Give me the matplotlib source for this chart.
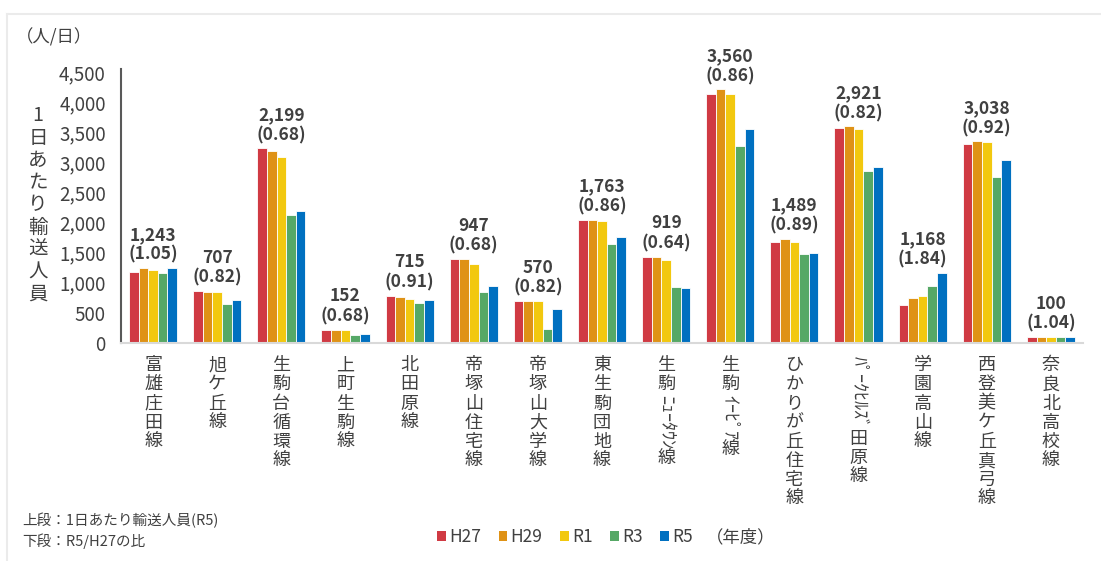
import unicodedata

import matplotlib
matplotlib.use("Agg")
import matplotlib.pyplot as plt
import numpy as np
from matplotlib.lines import Line2D
from matplotlib.patches import Patch
from matplotlib.ticker import FuncFormatter

routes = ["富雄庄田線", "旭ケ丘線", "生駒台循環線", "上町生駒線", "北田原線",
          "帝塚山住宅線", "帝塚山大学線", "東生駒団地線", "生駒ﾆｭｰﾀｳﾝ線",
          "生駒ｲｰﾋﾟｱ線", "ひかりが丘住宅線", "ﾊﾟｰｸﾋﾙｽﾞ田原線", "学園高山線",
          "西登美ケ丘真弓線", "奈良北高校線"]
years = ["H27", "H29", "R1", "R3", "R5"]
h27 = [1184, 862, 3234, 224, 786, 1393, 695, 2050, 1436, 4140, 1673, 3562, 635, 3302, 96]
h29 = [1240, 852, 3187, 224, 759, 1395, 695, 2045, 1422, 4211, 1727, 3600, 745, 3350, 97]
r1 = [1212, 850, 3088, 215, 725, 1311, 690, 2025, 1383, 4135, 1680, 3550, 775, 3340, 100]
r3 = [1167, 643, 2125, 133, 659, 852, 232, 1638, 930, 3275, 1480, 2850, 940, 2760, 96]
r5 = [1243, 707, 2199, 152, 715, 947, 570, 1763, 919, 3560, 1489, 2921, 1168, 3038, 100]
ratio = [1.05, 0.82, 0.68, 0.68, 0.91, 0.68, 0.82, 0.86, 0.64, 0.86, 0.89, 0.82, 1.84, 0.92, 1.04]
colors = ["#d03a43", "#df9216", "#f2c80f", "#56a866", "#0070c0"]

plt.rcParams["font.family"] = ["Noto Sans CJK JP", "DejaVu Sans"]
TEXT = "#404040"

W, H = 1101, 561
fig = plt.figure(figsize=(W / 100, H / 100), dpi=100)
ax = fig.add_axes([121 / W, 1 - 343 / H, (1083 - 121) / W, (343 - 69) / H])

series = [h27, h29, r1, r3, r5]
x = np.arange(len(routes))
width = 0.15
for k, (name, vals, color) in enumerate(zip(years, series, colors)):
    ax.bar(x + (k - 2) * width, vals, width, color=color, edgecolor="white",
           linewidth=0.6, label=name, zorder=2)

ax.set_xlim(-0.5, len(routes) - 0.5)
ax.set_ylim(0, 4550)
ax.set_yticks(np.arange(0, 4501, 500))
ax.yaxis.set_major_formatter(FuncFormatter(lambda v, p: f"{v:,.0f}"))
ax.tick_params(axis="y", length=0, pad=11, labelsize=13.5, labelcolor=TEXT)
ax.set_xticks([])
ax.spines["top"].set_visible(False)
ax.spines["right"].set_visible(False)
ax.spines["left"].set_color("#595959")
ax.spines["left"].set_linewidth(1.5)
ax.spines["bottom"].set_color("#d9d9d9")
ax.spines["bottom"].set_linewidth(1.5)

# R5 value and R5/H27 ratio above each group
tops = np.max(np.vstack(series), axis=0)
for i in x:
    ax.annotate(f"{r5[i]:,}\n({ratio[i]:.2f})", xy=(i, tops[i]), xytext=(0, 3),
                textcoords="offset points", ha="center", va="bottom",
                fontsize=12.5, fontweight="bold", color=TEXT, linespacing=1.15)

# vertical category labels, half-width kana runs are turned sideways
renderer = fig.canvas.get_renderer()


def vertical_label(i, label):
    pieces = []
    run = ""
    for ch in label:
        if unicodedata.east_asian_width(ch) in ("H", "Na"):
            run += ch
        else:
            if run:
                pieces.append((run, True))
                run = ""
            pieces.append((ch, False))
    if run:
        pieces.append((run, True))

    offset = -9.5
    for text, narrow in pieces:
        t = ax.annotate(text, xy=(i, 0), xycoords=("data", "axes fraction"),
                        xytext=(0, offset), textcoords="offset points",
                        ha="center", va="top", rotation=-90 if narrow else 0,
                        fontsize=13, color=TEXT, annotation_clip=False)
        if narrow:
            offset -= t.get_window_extent(renderer).height * 72 / fig.dpi + 1
        else:
            offset -= 13.8


for i, name in enumerate(routes):
    vertical_label(i, name)

fig.text(38 / W, 1 - 205 / H, "\n".join("1日あたり輸送人員"), ha="center",
         va="center", fontsize=14, color=TEXT, linespacing=1.08)
fig.text(16 / W, 1 - 37 / H, "（人/日）", ha="left", va="center",
         fontsize=12.5, color=TEXT)

fig.text(22 / W, 1 - 520 / H, "上段：1日あたり輸送人員(R5)", ha="left",
         va="center", fontsize=10.5, color=TEXT)
fig.text(22 / W, 1 - 541 / H, "下段：R5/H27の比", ha="left",
         va="center", fontsize=10.5, color=TEXT)

handles = [Patch(facecolor=c, edgecolor="none") for c in colors]
fig.legend(handles, years, loc="center left",
           bbox_to_anchor=(437 / W, 1 - 537 / H), ncol=5, frameon=False,
           fontsize=12.5, labelcolor=TEXT, handlelength=0.5, handleheight=0.5,
           handletextpad=0.2, columnspacing=1.0, borderaxespad=0, borderpad=0)
fig.text(706 / W, 1 - 537 / H, "（年度）", ha="left", va="center",
         fontsize=12.5, color=TEXT)

# light frame on the top and left edges
fig.add_artist(Line2D([7 / W, 1], [1 - 14 / H] * 2, color="#ebebeb", lw=1.5))
fig.add_artist(Line2D([7 / W] * 2, [0, 1 - 14 / H], color="#ebebeb", lw=1.5))

fig.savefig("out.png", dpi=100, facecolor="white")
